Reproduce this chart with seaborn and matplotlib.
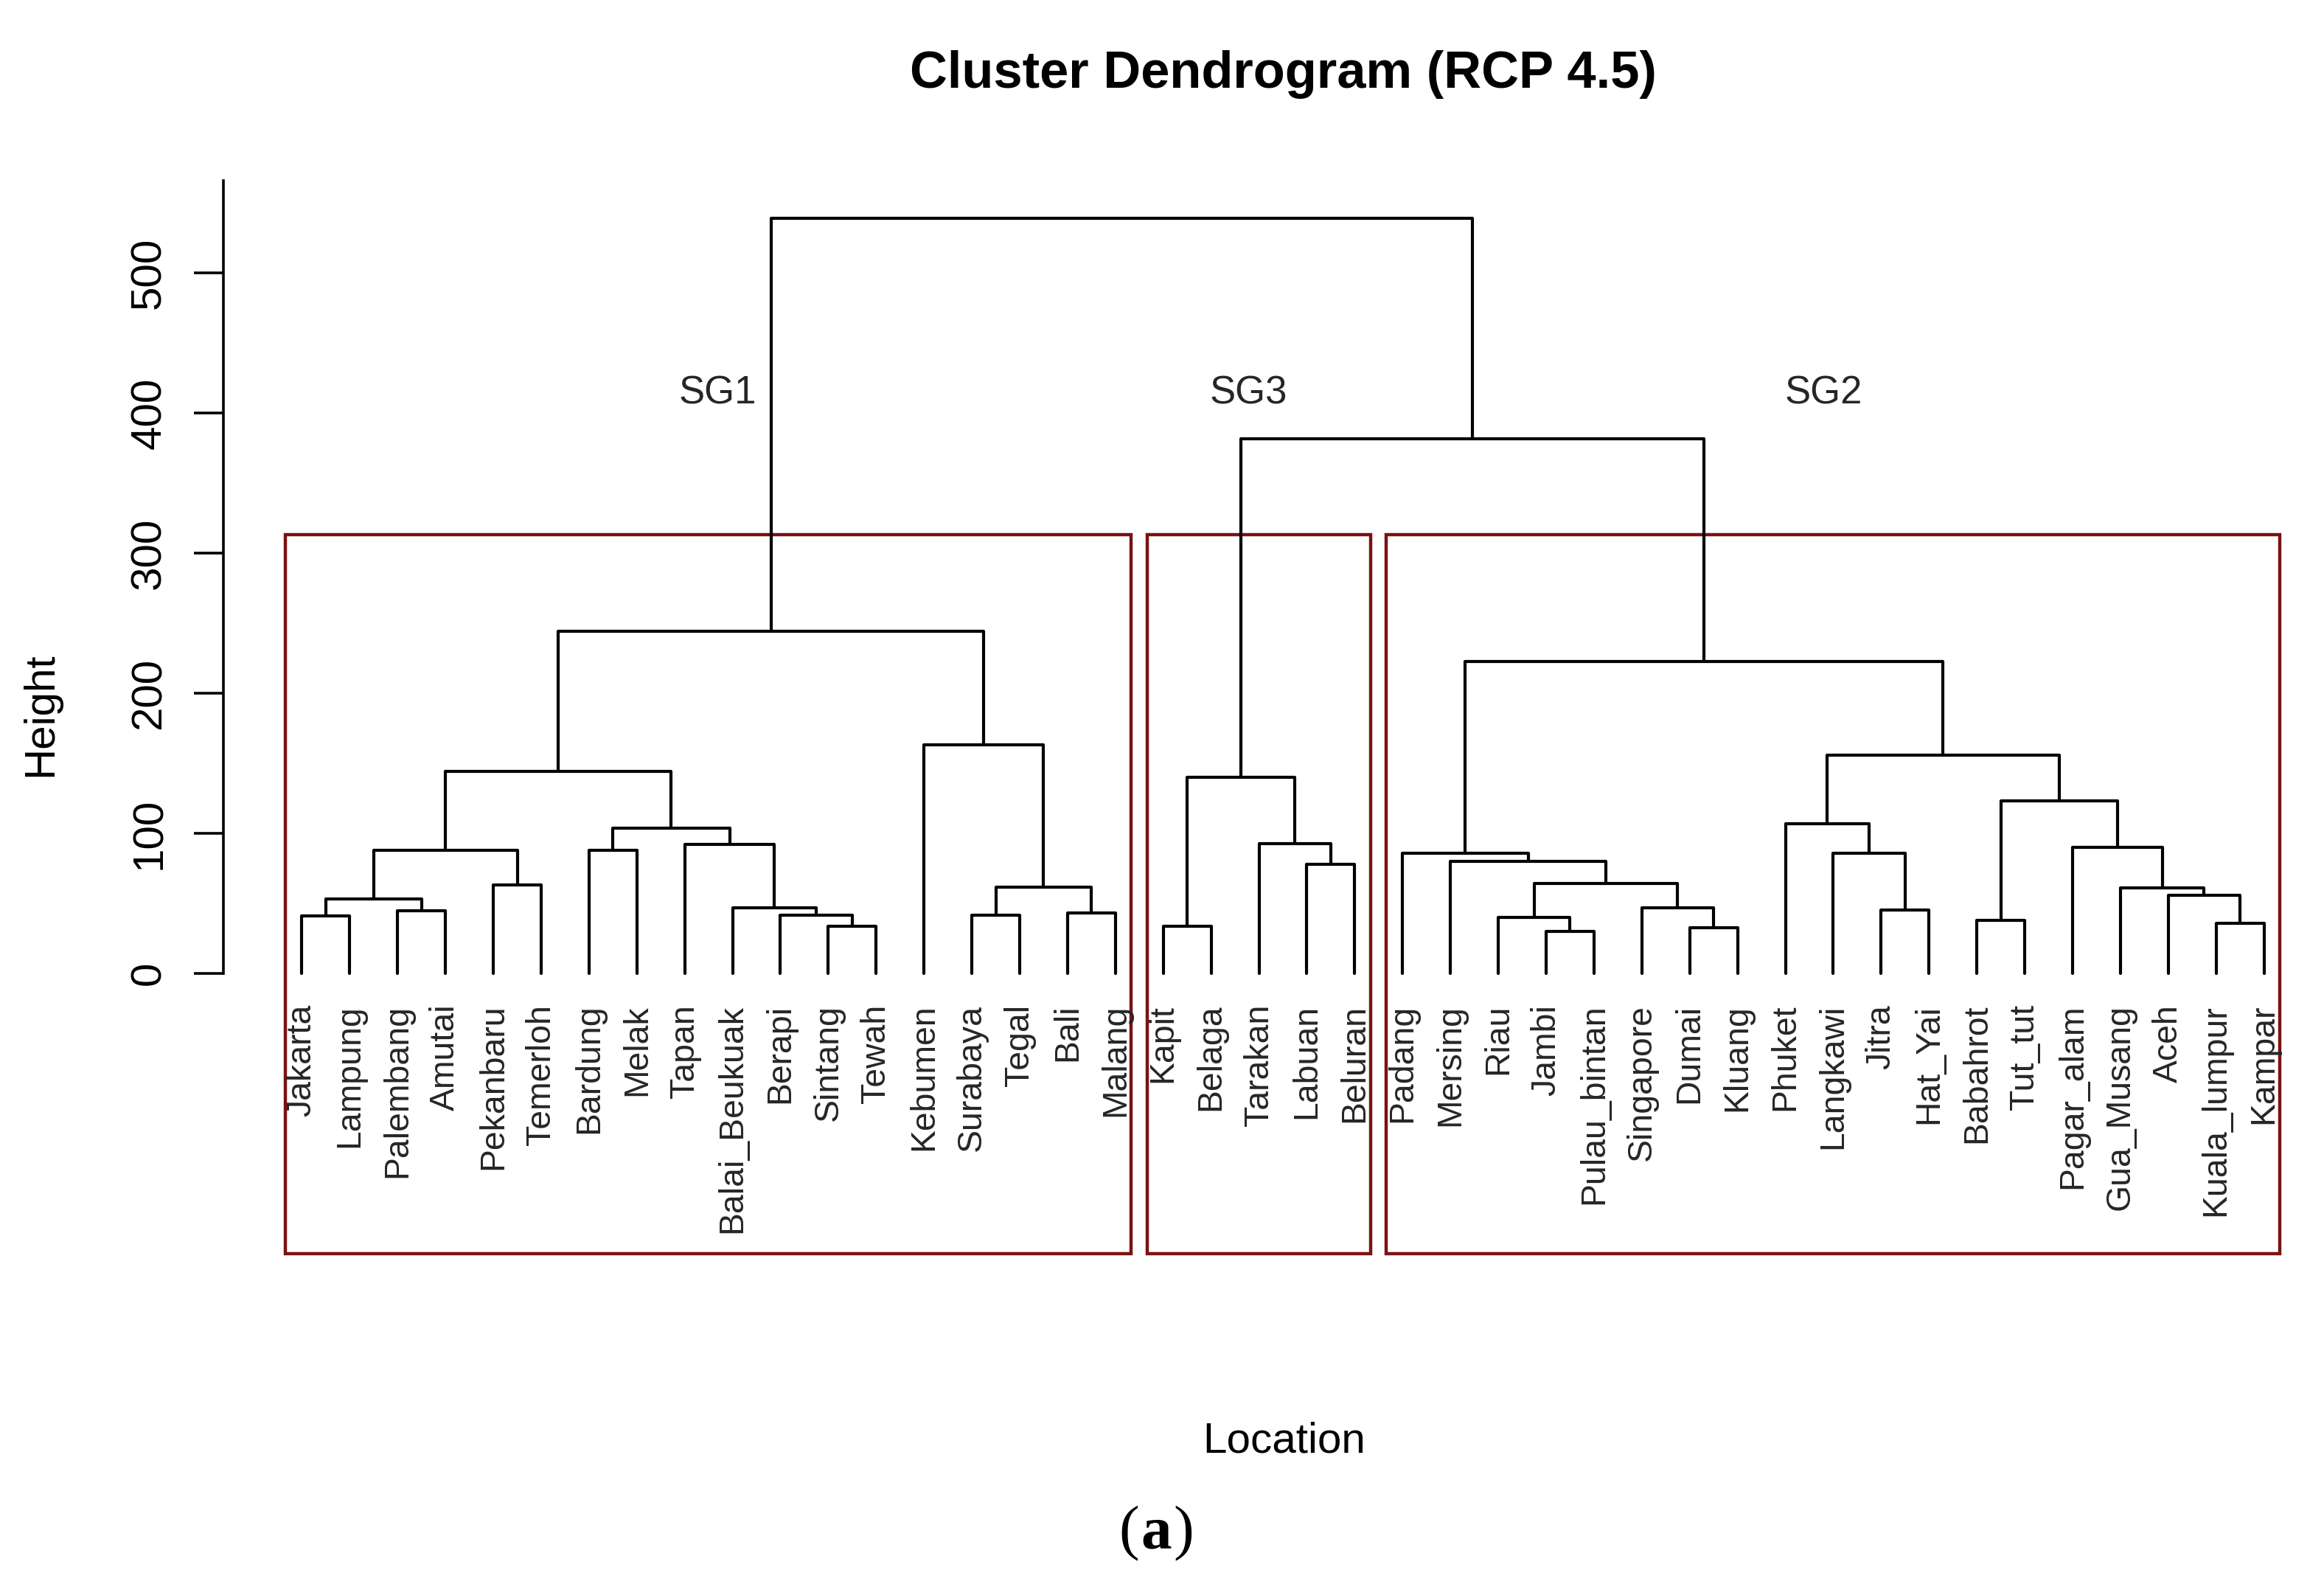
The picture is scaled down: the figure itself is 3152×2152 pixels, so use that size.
import numpy as np
import pandas as pd
import seaborn as sns
import matplotlib.pyplot as plt
from matplotlib.patches import Rectangle

# leaves in plotting order
leaves = ["Jakarta", "Lampung", "Palembang", "Amutai", "Pekanbaru", "Temerloh",
          "Bardung", "Melak", "Tapan", "Balai_Beukuak", "Berapi", "Sintang", "Tewah",
          "Kebumen", "Surabaya", "Tegal", "Bali", "Malang",
          "Kapit", "Belaga", "Tarakan", "Labuan", "Beluran",
          "Padang", "Mersing", "Riau", "Jambi", "Pulau_bintan", "Singapore", "Dumai",
          "Kluang", "Phuket", "Langkawi", "Jitra", "Hat_Yai", "Babahrot", "Tut_tut",
          "Pagar_alam", "Gua_Musang", "Aceh", "Kuala_lumpur", "Kampar"]

# merges: a leaf name or the index of an earlier merge, and the merge height
merge_a = ["Jakarta", "Palembang", 0, "Pekanbaru", 2, "Bardung", "Sintang", "Berapi",
           "Balai_Beukuak", "Tapan", 5, 4, "Surabaya", "Bali", 12, "Kebumen", 11,
           "Kapit", "Labuan", "Tarakan", 17,
           "Jambi", "Riau", "Dumai", "Singapore", 22, "Mersing", "Padang",
           "Jitra", "Langkawi", "Phuket", "Babahrot", "Kuala_lumpur", "Aceh",
           "Gua_Musang", "Pagar_alam", 31, 30, 27, 20, 16]
merge_b = ["Lampung", "Amutai", 1, "Temerloh", 3, "Melak", "Tewah", 6,
           7, 8, 9, 10, "Tegal", "Malang", 13, 14, 15,
           "Belaga", "Beluran", 18, 19,
           "Pulau_bintan", 21, "Kluang", 23, 24, 25, 26,
           "Hat_Yai", 28, 29, "Tut_tut", "Kampar", 32,
           33, 34, 35, 36, 37, 38, 39]
merge_h = [41, 45, 53, 63, 88, 88, 34, 41.5, 47, 92, 104, 144.5, 41.5, 43, 61.5,
           163.5, 244.5,
           34, 78, 92.5, 140,
           30, 40, 32.5, 47, 64.5, 80, 86, 45.5, 86, 107, 38, 36, 56, 61, 90,
           123.5, 156, 223, 382, 539]

groups = ["SG1", "SG3", "SG2"]
group_node = [16, 20, 38]
group_label_x = [9.69, 20.78, 32.8]
group_label_y = 414

# fonts
sns.set_theme(style="white")
plt.rcParams["font.family"] = ["Liberation Sans", "DejaVu Sans"]

# node positions from the merge table
pos = {name: i + 1 for i, name in enumerate(leaves)}
node_x, node_h, members = [], [], []


def child(c):
    if isinstance(c, str):
        return pos[c], 0.0, [pos[c]]
    return node_x[c], node_h[c], members[c]


rows = []
for k, (a, b, h) in enumerate(zip(merge_a, merge_b, merge_h)):
    xa, ha, ma = child(a)
    xb, hb, mb = child(b)
    for j, (x, y) in enumerate([(xa, ha), (xa, h), (xb, h), (xb, hb)]):
        rows.append({"seg": k, "step": j, "x": x, "y": y})
    node_x.append((xa + xb) / 2)
    node_h.append(h)
    members.append(ma + mb)
segs = pd.DataFrame(rows)

W, H = 3152, 2152
fig = plt.figure(figsize=(W / 200, H / 200), dpi=200)
ax = fig.add_axes([303 / W, 1 - 1700 / H, (3177 - 303) / W, (1700 - 245) / H])

sns.lineplot(data=segs, x="x", y="y", units="seg", estimator=None, sort=False,
             color="black", linewidth=1.5, ax=ax, legend=False)

ybot = -200
ax.set_xlim(-0.64, 43.64)
ax.set_ylim(ybot, 566)

# cluster boxes (rect.hclust style)
box_top = np.mean(sorted(merge_h)[-3:-1])
for g, nd, lx in zip(groups, group_node, group_label_x):
    m = members[nd]
    x0, x1 = min(m) - 0.34, max(m) + 0.33
    ax.add_patch(Rectangle((x0, ybot), x1 - x0, box_top - ybot, fill=False,
                           edgecolor="#7a1212", linewidth=1.6, clip_on=False))
    ax.text(lx, group_label_y, g, ha="center", va="center", fontsize=19)

# leaf labels
for name, x in pos.items():
    ax.annotate(name, (x, 0), xytext=(0, -15), textcoords="offset points",
                rotation=90, ha="center", va="top", fontsize=16.7)

# axes styling
for s in ["top", "right", "bottom"]:
    ax.spines[s].set_visible(False)
ax.spines["left"].set_bounds(0, 566)
ax.spines["left"].set_linewidth(1.3)
ax.spines["left"].set_color("black")
ax.set_xticks([])
ax.set_yticks(range(0, 501, 100))
ax.tick_params(axis="y", left=True, length=14.4, width=1.3, pad=12,
               labelsize=21, labelrotation=90, color="black", labelcolor="black")
for lbl in ax.get_yticklabels():
    lbl.set_va("center")
ax.set_xlabel("")
ax.set_ylabel("")

fig.text(1740 / W, 1 - 101 / H, "Cluster Dendrogram (RCP 4.5)", ha="center",
         va="center", fontsize=25.4, fontweight="bold", color="black")
fig.text(1742 / W, 1 - 1955 / H, "Location", ha="center", va="center",
         fontsize=21, color="black")
fig.text(55 / W, 1 - 969 / H, "Height", ha="center", va="center", fontsize=21,
         rotation=90, color="black")

# caption: regular parentheses around a bold letter
serif = ["Liberation Serif", "DejaVu Serif"]
cy = 1 - 2080 / H
fig.text(1568 / W, cy, "a", ha="center", va="center", fontsize=30,
         fontweight="bold", family=serif, color="black")
fig.text((1568 - 23) / W, cy, "(", ha="right", va="center", fontsize=30,
         family=serif, color="black")
fig.text((1568 + 23) / W, cy, ")", ha="left", va="center", fontsize=30,
         family=serif, color="black")

fig.savefig("out.png", dpi=200, facecolor="white")
